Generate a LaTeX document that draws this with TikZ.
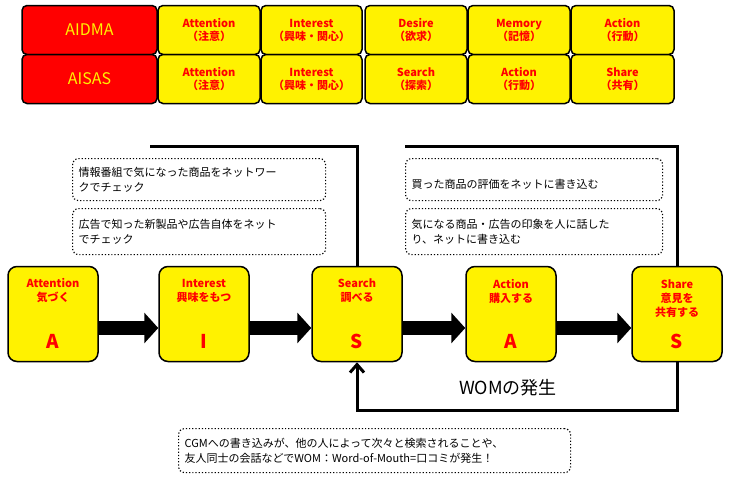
\documentclass[tikz,border=0pt]{standalone}
\usepackage{fontspec}
\setmainfont{Noto Sans CJK JP}
\usetikzlibrary{arrows.meta}
\begin{document}
\begin{tikzpicture}[x=1pt,y=-1pt,
 cell/.style={draw=black,line width=1.5pt,rounded corners=5pt,fill=yellow,minimum height=49pt,align=center,font=\fontsize{11}{13}\selectfont\bfseries,text=red,inner sep=1pt},
 head/.style={cell,fill=red,text=yellow,font=\fontsize{16}{18}\selectfont},
 stage/.style={draw=black,line width=1.5pt,rounded corners=9pt,fill=yellow,minimum width=90pt,minimum height=95pt},
 stxt/.style={align=center,text=red,font=\fontsize{11}{14}\selectfont\bfseries},
 big/.style={text=red,font=\fontsize{19}{20}\selectfont\bfseries},
 note/.style={draw=black,line width=1.2pt,dotted,rounded corners=6pt,align=left,font=\fontsize{11}{15}\selectfont,inner sep=6pt,anchor=north west},
 flow/.style={line width=14pt,-{Triangle[length=14pt,width=30pt]}},
 fb/.style={line width=3pt}]
\useasboundingbox (0,0) rectangle (737,479);
% table
\node[head,minimum width=135pt] (h1) at (89.5,30) {AIDMA};
\node[head,minimum width=135pt] (h2) at (89.5,79) {AISAS};
\foreach \x/\w/\a/\b [count=\i] in {209/102/Attention/（注意）,311.5/101/Interest/（興味・関心）,416/102/Desire/（欲求）,519/102/Memory/（記憶）,622.5/103/Action/（行動）}
  \node[cell,minimum width=\w pt] (r1c\i) at (\x,30) {\a\\\b};
\foreach \x/\w/\a/\b [count=\i] in {209/102/Attention/（注意）,311.5/101/Interest/（興味・関心）,416/102/Search/（探索）,519/102/Action/（行動）,622.5/103/Share/（共有）}
  \node[cell,minimum width=\w pt] (r2c\i) at (\x,79) {\a\\\b};
% steps
\node[stage] (s1) at (53,314) {};
\node[stage] (s2) at (204,314) {};
\node[stage] (s3) at (357,314) {};
\node[stage] (s4) at (511,314) {};
\node[stage] (s5) at (677,314) {};
\node[stxt] (t1) at (53,291) {Attention\\気づく};
\node[stxt] (t2) at (204,291) {Interest\\興味をもつ};
\node[stxt] (t3) at (357,291) {Search\\調べる};
\node[stxt] (t4) at (511,291) {Action\\購入する};
\node[stxt] (t5) at (677,299) {Share\\意見を\\共有する};
\node[big] (l1) at (53,341) {A};
\node[big] (l2) at (204,341) {I};
\node[big] (l3) at (357,341) {S};
\node[big] (l4) at (511,341) {A};
\node[big] (l5) at (677,341) {S};
\draw[flow] (s1.east|-0,328) -- (s2.west|-0,328);
\draw[flow] (s2.east|-0,328) -- (s3.west|-0,328);
\draw[flow] (s3.east|-0,328) -- (s4.west|-0,328);
\draw[flow] (s4.east|-0,328) -- (s5.west|-0,328);
% feedback brackets
\coordinate (c1) at (150,146);
\coordinate (c2) at (405,146);
\draw[fb] (c1) -- (s3.north|-c1) -- (s3.north);
\draw[fb] (c2) -- (s5.north|-c2) -- (s5.north);
\draw[fb,-{Straight Barb[length=8pt,width=14pt]}] (s5.south) -- ++(0,48) -| (s3.south);
\node[font=\fontsize{18}{20}\selectfont] (wom) at (508,388) {WOMの発生};
% notes
\node[note,text width=241pt,minimum height=42pt] (n1) at (72,158) {情報番組で気になった商品をネットワー\\クでチェック};
\node[note,text width=241pt,minimum height=46pt] (n2) at (72,208) {広告で知った新製品や広告自体をネット\\でチェック};
\node[note,text width=245pt,minimum height=42pt,text height=19pt] (n3) at (405,158) {買った商品の評価をネットに書き込む};
\node[note,text width=245pt,minimum height=46pt] (n4) at (405,208) {気になる商品・広告の印象を人に話した\\り、ネットに書き込む};
\node[note,text width=380pt,minimum height=44pt] (n5) at (178,428) {CGMへの書き込みが、他の人によって次々と検索されることや、\\友人同士の会話などでWOM：Word-of-Mouth=口コミが発生！};
\end{tikzpicture}
\end{document}
